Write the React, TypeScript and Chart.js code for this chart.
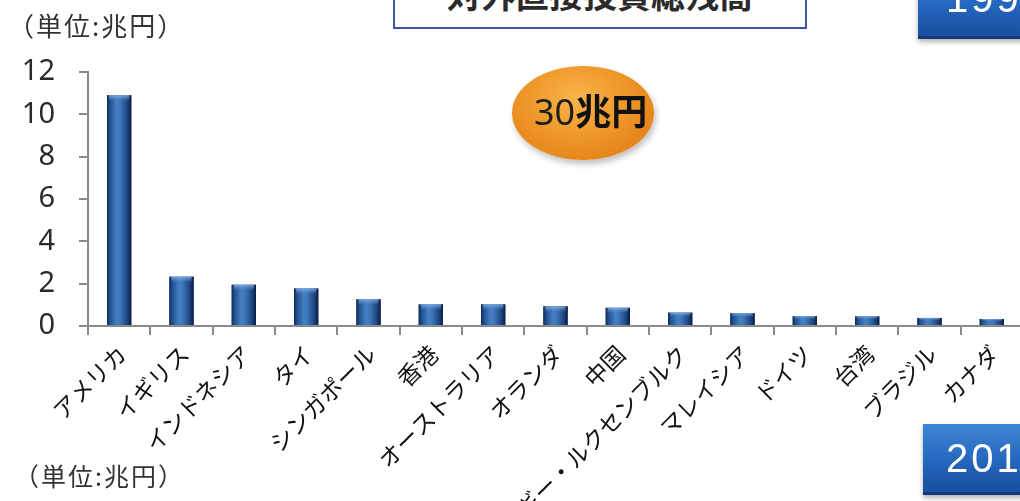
import React, { useEffect, useRef } from "react";
import { Chart, registerables } from "chart.js";

Chart.register(...registerables);

const categories = [
  "アメリカ",
  "イギリス",
  "インドネシア",
  "タイ",
  "シンガポール",
  "香港",
  "オーストラリア",
  "オランダ",
  "中国",
  "ベルギー・ルクセンブルク",
  "マレイシア",
  "ドイツ",
  "台湾",
  "ブラジル",
  "カナダ",
];
const values = [10.9, 2.33, 1.95, 1.77, 1.26, 1.02, 1.02, 0.93, 0.86, 0.63, 0.6, 0.46, 0.45, 0.38, 0.33];
const yTicks = [0, 2, 4, 6, 8, 10, 12];
const unitLabel = "（単位:兆円）";
const titleText = "対外直接投資総残高";
const totalValue = "30";
const totalUnit = "兆円";
const yearTop = "199";
const yearBottom = "201";

const CANVAS_W = 1024;
const CANVAS_H = 600;

const barShade = {
  id: "barShade",
  afterDatasetsDraw(chart: any) {
    const ctx = chart.ctx;
    const meta = chart.getDatasetMeta(0);
    meta.data.forEach((el: any) => {
      const { x, y, base, width } = el.getProps(["x", "y", "base", "width"], true);
      const l = x - width / 2;
      const h = base - y;
      const g = ctx.createLinearGradient(l, 0, l + width, 0);
      g.addColorStop(0, "#0e2a55");
      g.addColorStop(0.12, "#21508f");
      g.addColorStop(0.4, "#4580c4");
      g.addColorStop(0.55, "#3d76ba");
      g.addColorStop(0.82, "#1f4884");
      g.addColorStop(1, "#0a1c40");
      ctx.save();
      ctx.fillStyle = g;
      ctx.fillRect(l, y, width, h);
      const capH = Math.min(6, h / 3);
      const cg = ctx.createLinearGradient(0, y, 0, y + capH);
      cg.addColorStop(0, "rgba(140,180,230,0.85)");
      cg.addColorStop(1, "rgba(80,130,200,0)");
      ctx.fillStyle = cg;
      ctx.fillRect(l + 2, y, width - 4, capH);
      ctx.restore();
    });
  },
};

export default function App() {
  const canvasRef = useRef<HTMLCanvasElement | null>(null);

  useEffect(() => {
    const canvas = canvasRef.current;
    if (!canvas) return;
    const chart = new Chart(canvas, {
      type: "bar",
      data: {
        labels: categories,
        datasets: [
          {
            data: values,
            backgroundColor: "#1f4a8a",
            borderWidth: 0,
            barPercentage: 0.39,
            categoryPercentage: 1,
          },
        ],
      },
      options: {
        animation: false,
        responsive: false,
        devicePixelRatio: 1,
        layout: { padding: { top: 72, left: 0, right: 1, bottom: 0 } },
        plugins: {
          legend: { display: false },
          tooltip: { enabled: false },
          title: { display: false },
        },
        scales: {
          x: {
            offset: true,
            grid: {
              display: true,
              drawOnChartArea: false,
              drawTicks: true,
              tickLength: 9,
              color: "#8a8a8a",
              lineWidth: 2,
              offset: true,
            },
            border: { display: true, color: "#8a8a8a", width: 2 },
            ticks: {
              autoSkip: false,
              minRotation: 45,
              maxRotation: 45,
              padding: 5,
              labelOffset: 3,
              color: "#111",
              font: { family: "'Noto Sans CJK JP', sans-serif", size: 23 },
            },
            afterFit: (scale: any) => {
              scale.height = CANVAS_H - 326;
            },
          },
          y: {
            min: 0,
            max: 12,
            afterBuildTicks: (scale: any) => {
              scale.ticks = yTicks.map((v) => ({ value: v }));
            },
            grid: {
              display: true,
              drawOnChartArea: false,
              drawTicks: true,
              tickLength: 9,
              color: "#8a8a8a",
              lineWidth: 2,
            },
            border: { display: true, color: "#8a8a8a", width: 2 },
            ticks: {
              padding: 24,
              color: "#2a2a2a",
              font: { family: "'Noto Sans', sans-serif", size: 29 },
            },
            afterFit: (scale: any) => {
              scale.width = 88;
            },
          },
        },
      },
      plugins: [barShade],
    });
    return () => chart.destroy();
  }, []);

  const cjk = "'Noto Sans CJK JP', 'Noto Sans', sans-serif";

  return (
    <div
      style={{
        position: "fixed",
        left: 0,
        top: 0,
        width: 1020,
        height: 501,
        overflow: "hidden",
        background: "#ffffff",
      }}
    >
      <canvas
        ref={canvasRef}
        width={CANVAS_W}
        height={CANVAS_H}
        style={{ position: "absolute", left: 0, top: 0, width: CANVAS_W, height: CANVAS_H }}
      />
      <div
        style={{
          position: "absolute",
          left: 8,
          top: 8,
          fontFamily: cjk,
          fontSize: 26,
          lineHeight: "34px",
          letterSpacing: 2,
          color: "#333",
          whiteSpace: "nowrap",
        }}
      >
        {unitLabel}
      </div>
      <div
        style={{
          position: "absolute",
          left: 14,
          top: 458,
          fontFamily: cjk,
          fontSize: 25,
          lineHeight: "34px",
          letterSpacing: 2,
          color: "#333",
          whiteSpace: "nowrap",
        }}
      >
        {unitLabel}
      </div>
      <div
        style={{
          position: "absolute",
          left: 393,
          top: -42,
          width: 414,
          height: 71,
          boxSizing: "border-box",
          border: "2px solid #3658a6",
          background: "#fff",
        }}
      >
        <div
          style={{
            position: "absolute",
            left: 0,
            right: 0,
            top: 14,
            textAlign: "center",
            fontFamily: cjk,
            fontWeight: 700,
            fontSize: 34,
            lineHeight: "40px",
            color: "#2a2a2a",
            whiteSpace: "nowrap",
          }}
        >
          {titleText}
        </div>
      </div>
      <div
        style={{
          position: "absolute",
          left: 512,
          top: 66,
          width: 142,
          height: 94,
          borderRadius: "50%",
          background:
            "radial-gradient(ellipse at 45% 35%, #f8b44c 0%, #f09a2c 40%, #e5841a 75%, #b8640c 100%)",
          boxShadow: "2px 4px 6px rgba(0,0,0,0.25)",
        }}
      />
      <div
        style={{
          position: "absolute",
          left: 534,
          top: 87,
          whiteSpace: "nowrap",
          fontSize: 36,
          lineHeight: "44px",
          color: "#1e1e1e",
        }}
      >
        <span style={{ fontFamily: "'Noto Sans', sans-serif" }}>{totalValue}</span>
        <span style={{ fontFamily: cjk, fontWeight: 700, color: "#111" }}>{totalUnit}</span>
      </div>
      <div
        style={{
          position: "absolute",
          left: 918,
          top: -32,
          width: 120,
          height: 71,
          boxSizing: "border-box",
          background: "linear-gradient(to bottom, #3f86d6 0%, #2466bd 55%, #1a4f9f 100%)",
          borderBottom: "3px solid #123a7a",
          boxShadow: "0 3px 5px rgba(0,0,0,0.3)",
        }}
      >
        <div
          style={{
            position: "absolute",
            left: 28,
            top: 9,
            fontFamily: "'Liberation Sans', Arial, sans-serif",
            fontSize: 40,
            lineHeight: "42px",
            letterSpacing: 3,
            color: "#fff",
            whiteSpace: "nowrap",
          }}
        >
          {yearTop}
        </div>
      </div>
      <div
        style={{
          position: "absolute",
          left: 923,
          top: 424,
          width: 120,
          height: 71,
          boxSizing: "border-box",
          background: "linear-gradient(to bottom, #3f86d6 0%, #2466bd 55%, #1a4f9f 100%)",
          borderBottom: "3px solid #123a7a",
          boxShadow: "0 3px 5px rgba(0,0,0,0.3)",
        }}
      >
        <div
          style={{
            position: "absolute",
            left: 23,
            top: 13,
            fontFamily: "'Liberation Sans', Arial, sans-serif",
            fontSize: 40,
            lineHeight: "42px",
            letterSpacing: 3,
            color: "#fff",
            whiteSpace: "nowrap",
          }}
        >
          {yearBottom}
        </div>
      </div>
    </div>
  );
}
